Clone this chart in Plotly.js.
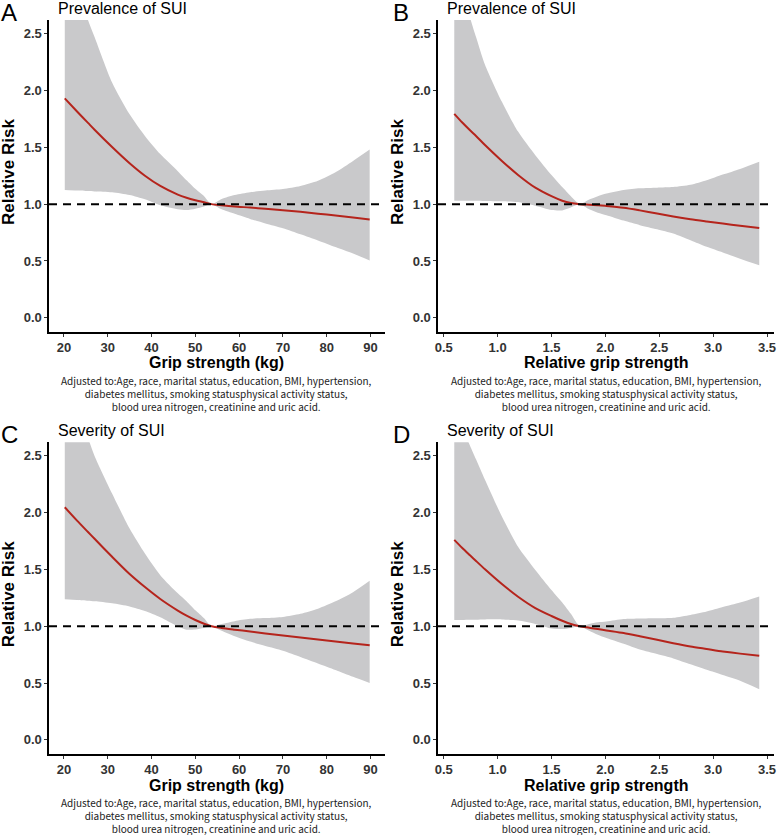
<!DOCTYPE html>
<html>
<head>
<meta charset="utf-8">
<script src="https://cdn.plot.ly/plotly-3.0.1.min.js"></script>
<style>
body{margin:0;background:#fff;}
#chart{width:777px;height:835px;}
</style>
</head>
<body>
<div id="chart"></div>
<script>
// x grids (grip strength in kg, relative grip strength)
var gripX = [20.2, 23, 25.5, 27, 31, 35, 38.5, 42, 46, 48, 50, 52, 53.7, 56, 59, 62.5, 66, 70, 74, 78, 82, 86, 89.8];
var relX = [0.598, 0.67, 0.744, 0.8, 0.883, 1.04, 1.19, 1.35, 1.5, 1.6, 1.68, 1.764, 1.85, 1.93, 2.01, 2.17, 2.32, 2.48, 2.63, 2.79, 2.94, 3.09, 3.25, 3.428];

// A - prevalence vs grip strength
var prevGripRR = [1.93, 1.815, 1.715, 1.655, 1.503, 1.36, 1.25, 1.16, 1.084, 1.056, 1.034, 1.016, 1.00, 0.99, 0.979, 0.97, 0.959, 0.947, 0.932, 0.916, 0.90, 0.883, 0.865];
var prevGripUpper = [3.28, 2.92, 2.62, 2.47, 2.07, 1.79, 1.60, 1.44, 1.29, 1.21, 1.135, 1.07, 1.0, 1.045, 1.08, 1.105, 1.12, 1.133, 1.16, 1.205, 1.28, 1.38, 1.48];
var prevGripLower = [1.124, 1.12, 1.115, 1.112, 1.105, 1.08, 1.042, 0.99, 0.955, 0.948, 0.96, 0.98, 1.0, 0.955, 0.915, 0.87, 0.83, 0.788, 0.735, 0.68, 0.622, 0.565, 0.505];

// B - prevalence vs relative grip strength
var prevRelRR = [1.794, 1.72, 1.65, 1.6, 1.52, 1.38, 1.257, 1.145, 1.07, 1.03, 1.01, 1.0, 0.995, 0.99, 0.984, 0.968, 0.945, 0.918, 0.891, 0.866, 0.847, 0.829, 0.81, 0.791];
var prevRelUpper = [3.12, 2.88, 2.64, 2.47, 2.227, 1.9, 1.638, 1.43, 1.256, 1.15, 1.07, 1.0, 1.04, 1.07, 1.094, 1.125, 1.14, 1.145, 1.15, 1.17, 1.21, 1.26, 1.31, 1.373];
var prevRelLower = [1.03, 1.03, 1.03, 1.03, 1.028, 1.025, 1.018, 0.985, 0.948, 0.945, 0.97, 1.0, 0.955, 0.925, 0.903, 0.855, 0.815, 0.779, 0.741, 0.682, 0.624, 0.574, 0.52, 0.462];

// C - severity vs grip strength
var sevGripRR = [2.048, 1.93, 1.83, 1.77, 1.612, 1.46, 1.345, 1.24, 1.138, 1.093, 1.055, 1.022, 1.0, 0.985, 0.97, 0.954, 0.936, 0.918, 0.9, 0.883, 0.866, 0.849, 0.832];
var sevGripUpper = [3.3, 2.96, 2.66, 2.5, 2.17, 1.86, 1.64, 1.45, 1.29, 1.22, 1.14, 1.07, 1.0, 1.02, 1.045, 1.065, 1.072, 1.082, 1.11, 1.155, 1.22, 1.3, 1.4];
var sevGripLower = [1.238, 1.232, 1.225, 1.22, 1.203, 1.175, 1.135, 1.08, 1.0, 0.97, 0.972, 0.985, 1.0, 0.96, 0.912, 0.865, 0.826, 0.785, 0.73, 0.673, 0.615, 0.555, 0.5];

// D - severity vs relative grip strength
var sevRelRR = [1.761, 1.692, 1.625, 1.575, 1.502, 1.372, 1.26, 1.16, 1.09, 1.048, 1.02, 1.0, 0.987, 0.975, 0.963, 0.94, 0.912, 0.881, 0.851, 0.822, 0.8, 0.778, 0.759, 0.74];
var sevRelUpper = [2.9, 2.75, 2.59, 2.47, 2.29, 1.966, 1.70, 1.496, 1.32, 1.21, 1.11, 1.0, 1.02, 1.035, 1.042, 1.063, 1.068, 1.07, 1.075, 1.1, 1.13, 1.17, 1.21, 1.263];
var sevRelLower = [1.055, 1.055, 1.057, 1.058, 1.06, 1.06, 1.05, 1.02, 0.98, 0.975, 0.985, 1.0, 0.96, 0.925, 0.896, 0.845, 0.795, 0.755, 0.717, 0.665, 0.616, 0.57, 0.52, 0.446];

var gripTicks = [20, 30, 40, 50, 60, 70, 80, 90];
var relTicks = [0.5, 1.0, 1.5, 2.0, 2.5, 3.0, 3.5];
var rrTicks = [0.0, 0.5, 1.0, 1.5, 2.0, 2.5];

var panelLetters = ['A', 'B', 'C', 'D'];
var panelTitles = ['Prevalence of SUI', 'Prevalence of SUI', 'Severity of SUI', 'Severity of SUI'];
var xTitles = ['Grip strength (kg)', 'Relative grip strength', 'Grip strength (kg)', 'Relative grip strength'];
var captionText = 'Adjusted to:Age, race, marital status, education, BMI, hypertension,<br>diabetes mellitus, smoking statusphysical activity status,<br>blood urea nitrogen, creatinine and uric acid.';

var W = 777, H = 835;
var BAND = '#c9c9cb';
var RED = '#b5241c';
var SANS = 'Liberation Sans, Arial, sans-serif';

function px(x){ return x / W; }
function py(y){ return 1 - y / H; }

function bandTraces(x, lower, upper, rr, n){
	var sfx = n === 1 ? '' : String(n);
	return [{
		x: x, y: lower, xaxis: 'x' + sfx, yaxis: 'y' + sfx,
		type: 'scatter', mode: 'lines',
		line: {width: 0, shape: 'spline', smoothing: 0.7},
		hoverinfo: 'skip', showlegend: false
	}, {
		x: x, y: upper, xaxis: 'x' + sfx, yaxis: 'y' + sfx,
		type: 'scatter', mode: 'lines', fill: 'tonexty', fillcolor: BAND,
		line: {width: 0, shape: 'spline', smoothing: 0.7},
		hoverinfo: 'skip', showlegend: false
	}, {
		x: x, y: rr, xaxis: 'x' + sfx, yaxis: 'y' + sfx,
		type: 'scatter', mode: 'lines',
		line: {color: RED, width: 2, shape: 'spline', smoothing: 0.7},
		showlegend: false
	}];
}

var data = []
	.concat(bandTraces(gripX, prevGripLower, prevGripUpper, prevGripRR, 1))
	.concat(bandTraces(relX, prevRelLower, prevRelUpper, prevRelRR, 2))
	.concat(bandTraces(gripX, sevGripLower, sevGripUpper, sevGripRR, 3))
	.concat(bandTraces(relX, sevRelLower, sevRelUpper, sevRelRR, 4));

// plot areas in pixels: [left, right] and [top, bottom]
var colPx = [[49, 385], [438, 774]];
var rowPx = [[20, 332], [442.3, 754]];

var layout = {
	width: W, height: H,
	margin: {l: 0, r: 0, t: 0, b: 0},
	paper_bgcolor: '#fff', plot_bgcolor: 'rgba(0,0,0,0)',
	showlegend: false,
	shapes: [],
	annotations: []
};

for(var i = 0; i < 4; i++){
	var n = i + 1;
	var sfx = n === 1 ? '' : String(n);
	var col = colPx[i % 2];
	var row = rowPx[Math.floor(i / 2)];
	var isGrip = (i % 2) === 0;
	layout['xaxis' + sfx] = {
		domain: [px(col[0]), px(col[1])],
		anchor: 'y' + sfx,
		range: isGrip ? [16.6, 93.3] : [0.447, 3.565],
		tickvals: isGrip ? gripTicks : relTicks,
		tickformat: isGrip ? 'd' : '.1f',
		showgrid: false, zeroline: false,
		showline: true, linecolor: '#000', linewidth: 1.6,
		ticks: 'outside', ticklen: 3, tickwidth: 1, tickcolor: '#333',
		tickfont: {family: SANS, size: 13, color: '#333', weight: 'bold'},
		fixedrange: true
	};
	layout['yaxis' + sfx] = {
		domain: [py(row[1]), py(row[0])],
		anchor: 'x' + sfx,
		range: [-0.125, 2.62],
		tickvals: rrTicks,
		tickformat: '.1f',
		showgrid: false, zeroline: false,
		showline: true, linecolor: '#000', linewidth: 1.6,
		ticks: 'outside', ticklen: 3, tickwidth: 1, tickcolor: '#333',
		tickfont: {family: SANS, size: 13, color: '#333', weight: 'bold'},
		fixedrange: true
	};
	// reference line at RR = 1
	layout.shapes.push({
		type: 'line', xref: 'x' + sfx + ' domain', yref: 'y' + sfx,
		x0: 0, x1: 1, y0: 1, y1: 1,
		line: {color: '#000', width: 2, dash: '8px,6px'},
		layer: 'above'
	});
	var mid = (col[0] + col[1]) / 2;
	layout.annotations.push({
		text: panelLetters[i], xref: 'paper', yref: 'paper',
		x: px(col[0] - (i % 2 ? 47 : 50)), y: py(row[0] - 8),
		xanchor: 'left', yanchor: 'middle', showarrow: false,
		font: {family: SANS, size: 24, color: '#000'}
	});
	layout.annotations.push({
		text: panelTitles[i], xref: 'paper', yref: 'paper',
		x: px(col[0] + 7), y: py(row[0] - 12),
		xanchor: 'left', yanchor: 'middle', showarrow: false,
		font: {family: SANS, size: 16, color: '#000'}
	});
	layout.annotations.push({
		text: xTitles[i], xref: 'paper', yref: 'paper',
		x: px(mid), y: py(row[1] + 31),
		xanchor: 'center', yanchor: 'middle', showarrow: false,
		font: {family: SANS, size: 16, color: '#000', weight: 'bold'}
	});
	layout.annotations.push({
		text: 'Relative Risk', xref: 'paper', yref: 'paper', textangle: -90,
		x: px(col[0] - 41), y: py((row[0] + row[1]) / 2 - 4),
		xanchor: 'center', yanchor: 'middle', showarrow: false,
		font: {family: SANS, size: 17, color: '#000', weight: 'bold'}
	});
	layout.annotations.push({
		text: captionText, xref: 'paper', yref: 'paper',
		x: px(mid), y: py(row[1] + 61),
		xanchor: 'center', yanchor: 'middle', align: 'center', showarrow: false,
		font: {family: '"Noto Sans CJK JP", "Noto Sans", sans-serif', size: 10, color: '#222'}
	});
}

Plotly.newPlot('chart', data, layout, {staticPlot: true});
</script>
</body>
</html>
